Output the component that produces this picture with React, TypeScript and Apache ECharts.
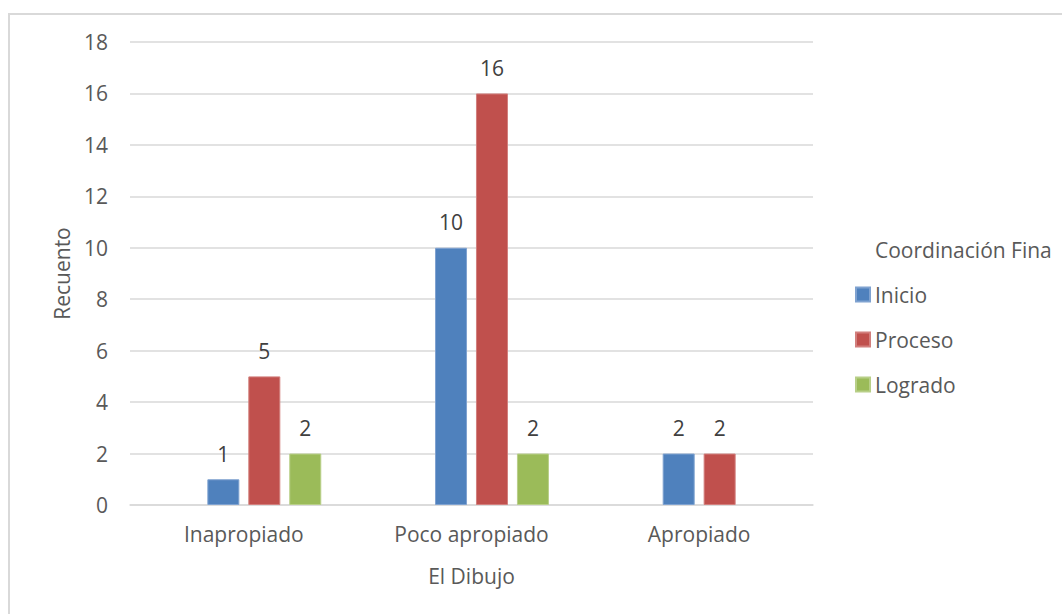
import React, { useEffect, useRef } from "react";
import * as echarts from "echarts";

// Categories of the drawing assessment
const categories = ["Inapropiado", "Poco apropiado", "Apropiado"];

// Counts per level of "Coordinación Fina" (null = no observation).
// The first group is an empty level that keeps its own (blank) bar slot.
const sinNivel: (number | null)[] = [null, null, null];
const inicio: (number | null)[] = [1, 10, 2];
const proceso: (number | null)[] = [5, 16, 2];
const logrado: (number | null)[] = [2, 2, null];

const seriesNames = ["Inicio", "Proceso", "Logrado"];
const seriesColors = ["#4F81BD", "#C0504D", "#9BBB59"];
const borderColors = ["#7FA2D0", "#D27F7D", "#B8CF88"];

const yTicks = { min: 0, max: 18, interval: 2 };

const FONT = "'Open Sans', 'Noto Sans', sans-serif";
const FS = 21;

export default function App() {
  const ref = useRef<HTMLDivElement>(null);

  useEffect(() => {
    if (!ref.current) return;
    const chart = echarts.init(ref.current, undefined, { renderer: "svg" });

    const label = {
      show: true,
      position: "top" as const,
      distance: 15,
      color: "#404040",
      fontSize: FS,
      fontFamily: FONT,
    };

    const valued = [inicio, proceso, logrado].map((vals, si) => ({
      name: seriesNames[si],
      type: "bar" as const,
      barWidth: 32,
      barGap: "28%",
      itemStyle: {
        color: seriesColors[si],
        borderColor: borderColors[si],
        borderWidth: 1,
      },
      label,
      data: vals.map((v) => (v == null ? "-" : v)),
    }));

    const blank = {
      name: "",
      type: "bar" as const,
      barWidth: 32,
      barGap: "28%",
      data: sinNivel.map((v) => (v == null ? "-" : v)),
    };

    chart.setOption({
      animation: false,
      backgroundColor: "#ffffff",
      textStyle: { fontFamily: FONT },
      graphic: [
        {
          type: "rect",
          silent: true,
          z: -10,
          shape: { x: 9, y: 14, width: 1200, height: 800 },
          style: { fill: "none", stroke: "#d9d9d9", lineWidth: 2 },
        },
      ],
      title: {
        text: "Coordinación Fina",
        left: 870,
        top: 234,
        textStyle: {
          fontFamily: FONT,
          fontSize: FS,
          fontWeight: "normal",
          color: "#595959",
        },
      },
      legend: {
        orient: "vertical",
        left: 855,
        top: 284,
        padding: 0,
        itemWidth: 14,
        itemHeight: 14,
        itemGap: 24,
        icon: "rect",
        data: seriesNames,
        textStyle: {
          fontFamily: FONT,
          fontSize: FS,
          color: "#595959",
          lineHeight: 21,
        },
      },
      grid: { left: 130, right: 249, top: 42, bottom: 109 },
      xAxis: {
        type: "category",
        data: categories,
        axisTick: { show: false },
        axisLine: { lineStyle: { color: "#d9d9d9", width: 1.5 } },
        axisLabel: {
          color: "#595959",
          fontSize: FS,
          fontFamily: FONT,
          margin: 18,
        },
        name: "El Dibujo",
        nameLocation: "middle",
        nameGap: 60,
        nameTextStyle: { color: "#595959", fontSize: FS, fontFamily: FONT },
      },
      yAxis: {
        type: "value",
        min: yTicks.min,
        max: yTicks.max,
        interval: yTicks.interval,
        axisLine: { show: false },
        axisTick: { show: false },
        splitLine: { lineStyle: { color: "#d9d9d9", width: 1.5 } },
        axisLabel: {
          color: "#595959",
          fontSize: FS,
          fontFamily: FONT,
          margin: 22,
        },
        name: "Recuento",
        nameLocation: "middle",
        nameGap: 58,
        nameTextStyle: { color: "#595959", fontSize: FS, fontFamily: FONT },
      },
      series: [blank, ...valued],
    });

    return () => chart.dispose();
  }, []);

  return (
    <div
      ref={ref}
      style={{ position: "fixed", left: 0, top: 0, width: 1062, height: 614 }}
    />
  );
}
